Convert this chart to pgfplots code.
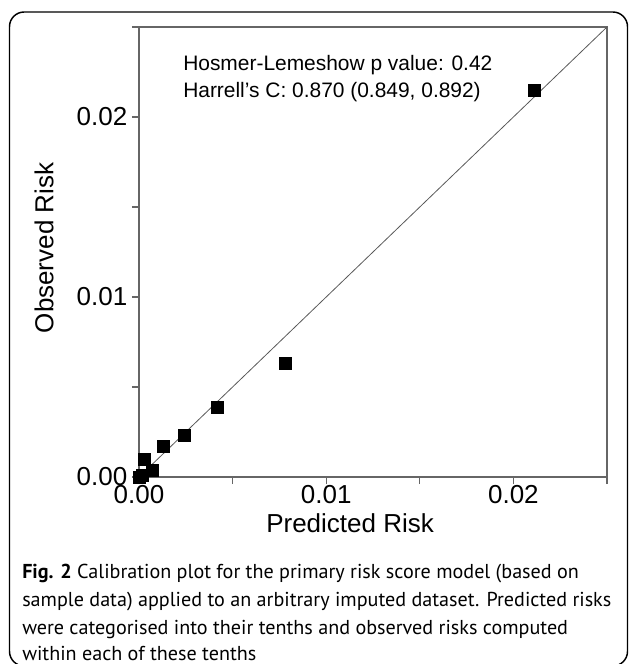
\documentclass[border=0pt]{standalone}
\usepackage{fontspec}
\setmainfont{Liberation Sans}
\newfontfamily\capfont{PT Sans}
\usepackage{pgfplots}
\pgfplotsset{compat=1.18}
\begin{document}
\begin{tikzpicture}
\begin{axis}[
  scale only axis, width=351pt, height=337.5pt,
  xmin=0, xmax=0.025, ymin=0, ymax=0.025,
  scaled ticks=false,
  axis line style={draw=black!60, line width=0.9pt},
  xtick={0,0.01,0.02}, ytick={0,0.01,0.02},
  xticklabels={0.00,0.01,0.02}, yticklabels={0.00,0.01,0.02},
  minor xtick={0.005,0.015,0.025}, minor ytick={0.005,0.015,0.025},
  tick align=outside, tick pos=left,
  major tick length=5.25pt, minor tick length=5.25pt,
  every tick/.style={draw=black!60, line width=0.9pt},
  every minor tick/.style={draw=black!60, line width=0.9pt},
  tick label style={font=\fontsize{19.5pt}{20pt}\selectfont},
  xticklabel style={inner ysep=1pt},
  xlabel={Predicted Risk}, ylabel={Observed Risk},
  every axis x label/.style={at={(axis description cs:0.451,-0.103)}, anchor=center, font=\fontsize{19.5pt}{20pt}\selectfont},
  every axis y label/.style={at={(axis description cs:-0.203,0.509)}, anchor=center, rotate=90, font=\fontsize{19.5pt}{20pt}\selectfont},
  clip=false,
]
\addplot[draw=black!65, line width=0.6pt] coordinates {(0,0) (0.025,0.025)};
\addplot[only marks, mark=square*, mark size=4.5pt, mark options={fill=black, draw=black}] coordinates {
(0.0000,0.0000) (0.0002,0.0001) (0.0003,0.0010) (0.0007,0.0004) (0.0013,0.0017)
(0.0024,0.0023) (0.0042,0.0039) (0.0078,0.0063) (0.0211,0.0215)
};
\end{axis}
\begin{scope}[x=0.75pt, y=-0.75pt, shift={(-104.25pt,357.75pt)}]
  \draw[line width=1.1pt, rounded corners=11pt] (9.5,12) rectangle (627.5,666);
  \node[anchor=base west, inner sep=0, font=\fontsize{15.7pt}{16pt}\selectfont] at (183,71) {Hosmer-Lemeshow p value: 0.42};
  \node[anchor=base west, inner sep=0, font=\fontsize{15.7pt}{16pt}\selectfont] at (183,98) {Harrell's C: 0.870 (0.849, 0.892)};
  \begin{scope}[every node/.style={anchor=base west, inner sep=0, font=\capfont\fontsize{15.1pt}{16pt}\selectfont}]
  \node at (22,578) {\textbf{Fig. 2} Calibration plot for the primary risk score model (based on};
  \node at (22,606) {sample data) applied to an arbitrary imputed dataset. Predicted risks};
  \node at (22,634) {were categorised into their tenths and observed risks computed};
  \node at (22,660) {within each of these tenths};
  \end{scope}
  \pgfresetboundingbox
  \path[use as bounding box] (0,0) rectangle (630,664);
\end{scope}
\end{tikzpicture}
\end{document}
